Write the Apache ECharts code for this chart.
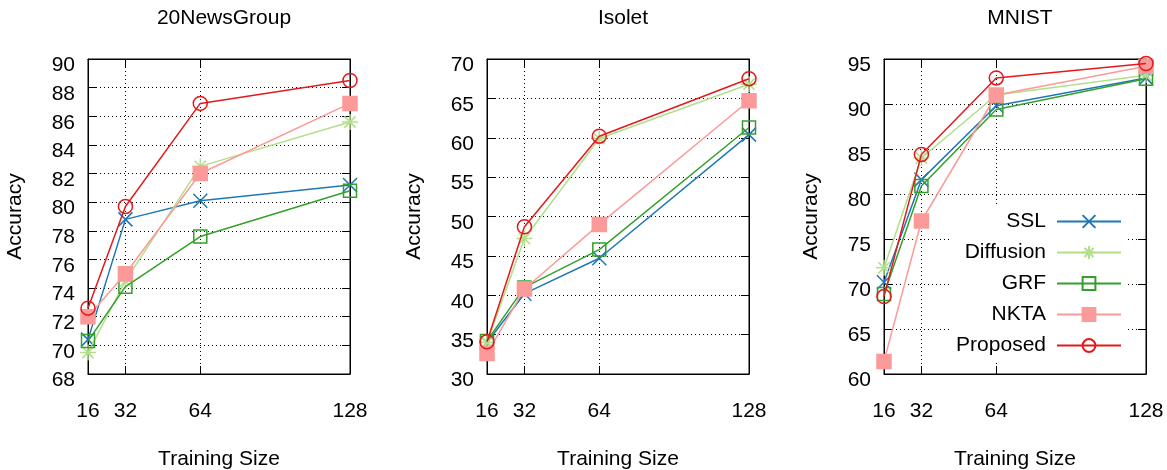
<!DOCTYPE html>
<html>
<head>
<meta charset="utf-8">
<script src="https://cdn.jsdelivr.net/npm/echarts@6/dist/echarts.min.js"></script>
<style>
  html, body { margin: 0; padding: 0; background: #fff; }
  #chart { width: 1167px; height: 470px; }
</style>
</head>
<body>
<div id="chart"></div>
<script>
// training sizes on the x axis
var trainSizes = [16, 32, 64, 128];
var methods = ['SSL', 'Diffusion', 'GRF', 'NKTA', 'Proposed'];

// 20NewsGroup
var newsSSL  = [70.4, 78.8, 80.1, 81.2];
var newsDiff = [69.5, 74.5, 82.5, 85.6];
var newsGRF  = [70.3, 74.1, 77.6, 80.8];
var newsNKTA = [72.0, 75.0, 82.0, 86.9];
var newsProp = [72.6, 79.7, 86.9, 88.5];

// Isolet
var isoSSL  = [34.0, 40.2, 44.7, 60.4];
var isoDiff = [34.0, 47.2, 59.9, 66.8];
var isoGRF  = [34.2, 41.0, 45.8, 61.3];
var isoNKTA = [32.6, 40.8, 49.0, 64.7];
var isoProp = [34.1, 48.7, 60.2, 67.5];

// MNIST
var mnSSL  = [70.2, 81.6, 89.8, 92.9];
var mnDiff = [71.8, 84.0, 91.0, 93.2];
var mnGRF  = [68.9, 80.9, 89.4, 92.8];
var mnNKTA = [61.4, 77.0, 91.0, 94.2];
var mnProp = [68.6, 84.4, 92.9, 94.5];

var panels = [
  { title: '20NewsGroup', min: 68, max: 90, step: 2, data: [newsSSL, newsDiff, newsGRF, newsNKTA, newsProp] },
  { title: 'Isolet', min: 30, max: 70, step: 5, data: [isoSSL, isoDiff, isoGRF, isoNKTA, isoProp] },
  { title: 'MNIST', min: 60, max: 95, step: 5, data: [mnSSL, mnDiff, mnGRF, mnNKTA, mnProp] }
];

var lefts = [88, 487, 884];
var plotW = 262, plotTop = 59, plotH = 315;
var font = 'Liberation Sans, Arial, Helvetica, sans-serif';
var fs = 21;

var styles = [
  { color: '#1f78b4', symbol: 'path://M0,0L10,10M10,0L0,10', size: 14, fill: 'rgba(0,0,0,0)' },
  { color: '#b2df8a', symbol: 'path://M5,0L5,10M0,5L10,5M1.5,1.5L8.5,8.5M8.5,1.5L1.5,8.5', size: 16, fill: 'rgba(0,0,0,0)' },
  { color: '#33a02c', symbol: 'rect', size: 13, fill: 'rgba(0,0,0,0)' },
  { color: '#fb9a99', symbol: 'rect', size: 14, fill: '#fb9a99' },
  { color: '#e31a1c', symbol: 'circle', size: 14, fill: 'rgba(0,0,0,0)' }
];

var grids = [], xAxes = [], yAxes = [], titles = [], series = [];

panels.forEach(function (p, k) {
  grids.push({ left: lefts[k], top: plotTop, width: plotW, height: plotH,
    outerBoundsMode: 'none', containLabel: false,
    show: true, borderColor: '#000', borderWidth: 1, backgroundColor: 'transparent' });

  titles.push({ text: p.title, left: lefts[k] + plotW / 2, textAlign: 'center', top: 3,
    textStyle: { fontFamily: font, fontSize: fs, fontWeight: 'normal', color: '#000' } });

  // bottom x axis
  xAxes.push({
    gridIndex: k, type: 'value', min: 16, max: 128, position: 'bottom',
    name: 'Training Size', nameLocation: 'middle', nameGap: 75,
    nameTextStyle: { fontFamily: font, fontSize: fs, color: '#000' },
    axisLine: { lineStyle: { color: '#000', width: 1 } },
    axisTick: { inside: true, length: 8, customValues: trainSizes, lineStyle: { color: '#000' } },
    axisLabel: { customValues: trainSizes, margin: 27, fontFamily: font, fontSize: fs, color: '#000' },
    splitLine: { show: true, lineStyle: { color: '#000', type: [1, 3], width: 1 } }
  });
  // mirrored top axis (ticks only)
  xAxes.push({
    gridIndex: k, type: 'value', min: 16, max: 128, position: 'top',
    axisLine: { lineStyle: { color: '#000', width: 1 } },
    axisTick: { inside: true, length: 8, customValues: trainSizes, lineStyle: { color: '#000' } },
    axisLabel: { show: false }, splitLine: { show: false }
  });

  yAxes.push({
    gridIndex: k, type: 'value', min: p.min, max: p.max, interval: p.step, position: 'left',
    name: 'Accuracy', nameLocation: 'middle', nameGap: 62, nameRotate: 90,
    nameTextStyle: { fontFamily: font, fontSize: fs, color: '#000' },
    axisLine: { show: true, lineStyle: { color: '#000', width: 1 } },
    axisTick: { show: true, inside: true, length: 8, lineStyle: { color: '#000' } },
    axisLabel: { margin: 13, fontFamily: font, fontSize: fs, color: '#000',
      verticalAlign: 'top', lineHeight: 13 },
    splitLine: { show: true, lineStyle: { color: '#000', type: [1, 3], width: 1 } }
  });
  yAxes.push({
    gridIndex: k, type: 'value', min: p.min, max: p.max, interval: p.step, position: 'right',
    axisLine: { show: true, lineStyle: { color: '#000', width: 1 } },
    axisTick: { show: true, inside: true, length: 8, lineStyle: { color: '#000' } },
    axisLabel: { show: false }, splitLine: { show: false }
  });

  methods.forEach(function (m, i) {
    var s = styles[i];
    series.push({
      name: m, type: 'line', xAxisIndex: k * 2, yAxisIndex: k * 2,
      data: trainSizes.map(function (x, j) { return [x, p.data[i][j]]; }),
      symbol: s.symbol, symbolSize: s.size, showAllSymbol: true,
      lineStyle: { color: s.color, width: 1.5 },
      itemStyle: { color: s.fill, borderColor: s.color, borderWidth: 1.5 },
      emphasis: { disabled: true },
      animation: false, z: 2 + i
    });
  });
});

var chart = echarts.init(document.getElementById('chart'), null, { renderer: 'canvas' });
chart.setOption({
  animation: false,
  backgroundColor: '#fff',
  title: titles,
  grid: grids,
  xAxis: xAxes,
  yAxis: yAxes,
  legend: {
    data: methods,
    orient: 'vertical', align: 'right',
    right: 40, top: 206,
    itemWidth: 64, itemHeight: 16, itemGap: 10,
    padding: [5, 5, 5, 5],
    backgroundColor: '#fff',
    selectedMode: false,
    textStyle: { fontFamily: font, fontSize: fs, color: '#000', padding: [0, 6, 0, 0] }
  },
  series: series
});
</script>
</body>
</html>
